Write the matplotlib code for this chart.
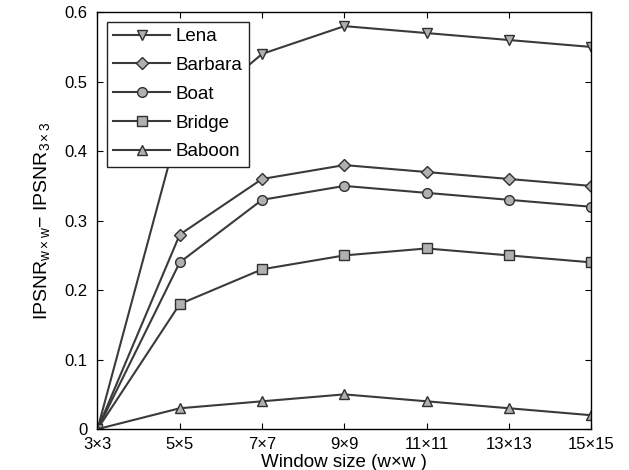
import matplotlib
matplotlib.use("Agg")
import matplotlib.pyplot as plt

plt.rcParams['font.family'] = ['Liberation Sans', 'DejaVu Sans']
plt.rcParams['mathtext.fontset'] = 'custom'
plt.rcParams['mathtext.rm'] = 'Liberation Sans'
plt.rcParams['mathtext.it'] = 'Liberation Sans'

windows = ['3×3', '5×5', '7×7', '9×9', '11×11', '13×13', '15×15']
lena = [0, 0.44, 0.54, 0.58, 0.57, 0.56, 0.55]
barbara = [0, 0.28, 0.36, 0.38, 0.37, 0.36, 0.35]
boat = [0, 0.24, 0.33, 0.35, 0.34, 0.33, 0.32]
bridge = [0, 0.18, 0.23, 0.25, 0.26, 0.25, 0.24]
baboon = [0, 0.03, 0.04, 0.05, 0.04, 0.03, 0.02]

series = [('Lena', lena, 'v'), ('Barbara', barbara, 'D'), ('Boat', boat, 'o'),
          ('Bridge', bridge, 's'), ('Baboon', baboon, '^')]

fig = plt.figure(figsize=(6.29, 4.70), dpi=100)
ax = fig.add_axes([0.155, 0.087, 0.785, 0.887])

x = list(range(len(windows)))
for name, vals, m in series:
    ms = 6 if m == 'D' else 7
    ax.plot(x, vals, color='#3a3a3a', lw=1.5, marker=m, markersize=ms,
            markerfacecolor='#b0b0b0', markeredgecolor='#303030', markeredgewidth=1.0,
            label=name)

ax.set_xlim(0, 6)
ax.set_ylim(0, 0.6)
ax.set_xticks(x)
ax.set_xticklabels(windows)
ax.set_yticks([0, 0.1, 0.2, 0.3, 0.4, 0.5, 0.6])
ax.set_yticklabels(['0', '0.1', '0.2', '0.3', '0.4', '0.5', '0.6'])
ax.tick_params(direction='in', top=True, right=True, labelsize=12, length=4)
ax.tick_params(axis='x', pad=6)
ax.tick_params(axis='y', pad=7)
for s in ax.spines.values():
    s.set_linewidth(1.0)

ax.set_xlabel('Window size (w×w )', fontsize=13.5, labelpad=1)
ax.set_ylabel(r'IPSNR$_{w\times w}$$-$ IPSNR$_{3\times 3}$', fontsize=14, labelpad=9)

leg = ax.legend(loc='upper left', fontsize=13.5, handlelength=3.0, frameon=True,
                fancybox=False, edgecolor='#222222', framealpha=1.0,
                borderaxespad=0.5, labelspacing=0.62, handletextpad=0.3, borderpad=0.35)
leg.get_frame().set_linewidth(1.0)

fig.savefig('out.png', dpi=100)
